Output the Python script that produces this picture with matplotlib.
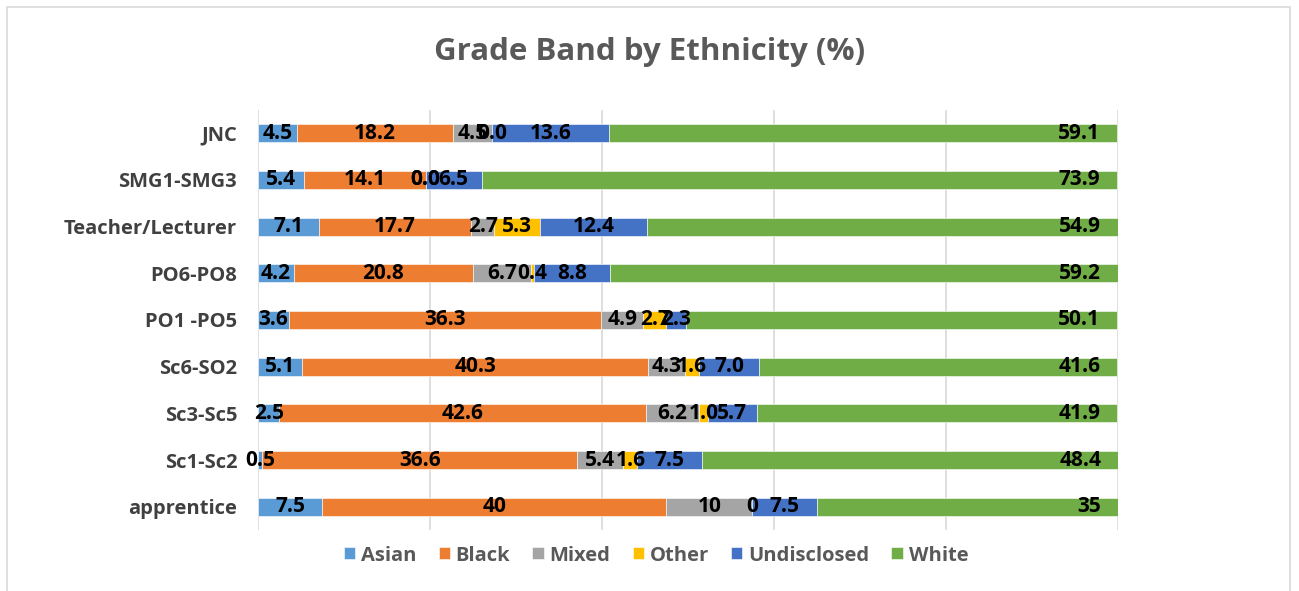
import numpy as np
import matplotlib.pyplot as plt
from matplotlib.patches import Rectangle

# -------------------------------------------------
# DATA
# -------------------------------------------------
grades = ["JNC", "SMG1-SMG3", "Teacher/Lecturer", "PO6-PO8", "PO1 -PO5",
          "Sc6-SO2", "Sc3-Sc5", "Sc1-Sc2", "apprentice"]
groups = ["Asian", "Black", "Mixed", "Other", "Undisclosed", "White"]

# kept as text so the labels read like the source (e.g. "40" vs "0.0")
asian = ["4.5", "5.4", "7.1", "4.2", "3.6", "5.1", "2.5", "0.5", "7.5"]
black = ["18.2", "14.1", "17.7", "20.8", "36.3", "40.3", "42.6", "36.6", "40"]
mixed = ["4.5", "0.0", "2.7", "6.7", "4.9", "4.3", "6.2", "5.4", "10"]
other = ["0.0", "0.0", "5.3", "0.4", "2.7", "1.6", "1.0", "1.6", "0"]
undisclosed = ["13.6", "6.5", "12.4", "8.8", "2.3", "7.0", "5.7", "7.5", "7.5"]
white = ["59.1", "73.9", "54.9", "59.2", "50.1", "41.6", "41.9", "48.4", "35"]

colors = ["#5B9BD5", "#ED7D31", "#A5A5A5", "#FFC000", "#4472C4", "#70AD47"]

series = [asian, black, mixed, other, undisclosed, white]

# -------------------------------------------------
# PLOT
# -------------------------------------------------
plt.rcParams["font.family"] = ["Open Sans", "DejaVu Sans"]

fig = plt.figure(figsize=(12.99, 5.91), dpi=100)
ax = fig.add_axes([0.1986, 0.1032, 0.662, 0.7107])

y = np.arange(len(grades))
left = np.zeros(len(grades))
for name, vals, col in zip(groups, series, colors):
    v = np.array([float(s) for s in vals])
    ax.barh(y, v, left=left, height=0.39, color=col, label=name,
            edgecolor="white", linewidth=0.4, zorder=3)
    for yi, (lv, vv, txt) in enumerate(zip(left, v, vals)):
        if name == "White":
            # last segment: label sits at the inside end
            ax.annotate(txt, (min(lv + vv, 100), yi), xytext=(-12, 0),
                        textcoords="offset points", ha="right", va="center",
                        fontsize=15, fontweight="bold", color="black",
                        zorder=4, annotation_clip=False)
        else:
            ax.text(lv + vv / 2, yi, txt, ha="center", va="center",
                    fontsize=15, fontweight="bold", color="black", zorder=4)
    left += v

ax.set_xlim(0, 100)
ax.set_ylim(len(grades) - 0.5, -0.5)
ax.set_xticks(np.arange(0, 101, 20))
ax.set_xticklabels([])
ax.set_yticks(y)
ax.set_yticklabels(grades, fontsize=14.5, fontweight="bold", color="#404040")
ax.tick_params(length=0, pad=15)
ax.grid(axis="x", color="#D9D9D9", linewidth=1.2, zorder=0)
for s in ax.spines.values():
    s.set_visible(False)

fig.text(0.5, 0.912, "Grade Band by Ethnicity (%)", ha="center", va="center",
         fontsize=22.5, fontweight="bold", color="#595959")

fig.legend(loc="center", bbox_to_anchor=(0.505, 0.06), ncol=6, frameon=False,
           handlelength=0.55, handleheight=0.55, handletextpad=0.3,
           columnspacing=1.1,
           prop={"size": 14.5, "weight": "bold"}, labelcolor="#595959")

fig.patches.append(Rectangle((7 / 1299, -0.02), 1283 / 1299, 1 - 7 / 591 + 0.02,
                             transform=fig.transFigure, fill=False,
                             edgecolor="#D9D9D9", linewidth=1.2))

fig.savefig("out.png", dpi=100)
